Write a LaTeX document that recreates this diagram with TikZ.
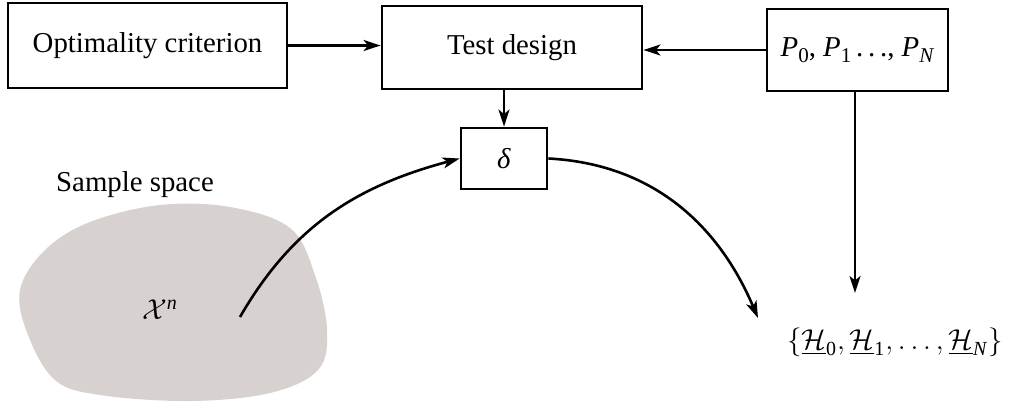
\documentclass[tikz,border=0pt]{standalone}
\usepackage{amsmath}
\usepackage{fontspec}
\setmainfont{Liberation Serif}
\usetikzlibrary{arrows.meta}
\definecolor{blob}{RGB}{215,209,207}
\newcommand{\itx}[1]{\textit{#1}}
\newcommand{\sbx}[1]{\raisebox{-0.22em}{\fontsize{10.5}{12}\selectfont #1}}
\begin{document}
\begin{tikzpicture}[x=0.5pt,y=-0.5pt,
  box/.style={draw,line width=1.4pt,minimum width=#1,inner sep=0pt,font=\rmfamily\fontsize{14.4}{17}\selectfont},
  arr/.style={line width=1.3pt,-{Stealth[length=8.5pt,width=5.5pt,inset=2.2pt]}},
  lbl/.style={inner sep=0pt,font=\rmfamily\fontsize{14.4}{17}\selectfont}]
\useasboundingbox (0,0) rectangle (1011,408);
\fill[blob] plot[smooth cycle,tension=0.6] coordinates {(20,290) (45,250) (90,222) (160,205) (230,207) (290,228) (315,275) (327,330) (318,370) (270,393) (190,401) (100,395) (55,380) (28,335)};
\node[box=139.5pt,minimum height=42.5pt] (opt) at (147.5,45.5) {Optimality criterion};
\node[box=130pt,minimum height=41.5pt] (test) at (512,47.5) {Test design};
\node[box=90.5pt,minimum height=41pt] (P) at (857.5,50) {\itx{P}\sbx{0}, \itx{P}\sbx{1}\,.\,.\,., \itx{P}\sbx{\itx{N}}};
\node[box=43pt,minimum height=30.5pt] (d) at (504,158.5) {\itx{δ}};
\node[lbl] (ss) at (135,185) {Sample space};
\node[lbl] (xn) at (160,310) {$\mathcal{X}^{\text{\itx{n}}}$};
\node[lbl] (H) at (895,342) {$\{\underline{\mathcal{H}}_{\text{0}},\underline{\mathcal{H}}_{\text{1}},\ldots,\underline{\mathcal{H}}_{\text{\itx{N}}}\}$};
\coordinate (xs) at (240,317);
\coordinate (pe) at (855,293);
\coordinate (he) at (758,318);
\draw[arr] (opt.east) -- (opt.east -| test.west);
\draw[arr] (P.west) -- (P.west -| test.east);
\draw[arr] (test.south -| d.north) -- (d.north);
\draw[arr] (P.south -| pe) -- (pe);
\draw[arr] (d.east) to[out=-3,in=113] (he);
\draw[arr] (xs) to[out=60,in=195] (d.west);
\end{tikzpicture}
\end{document}
